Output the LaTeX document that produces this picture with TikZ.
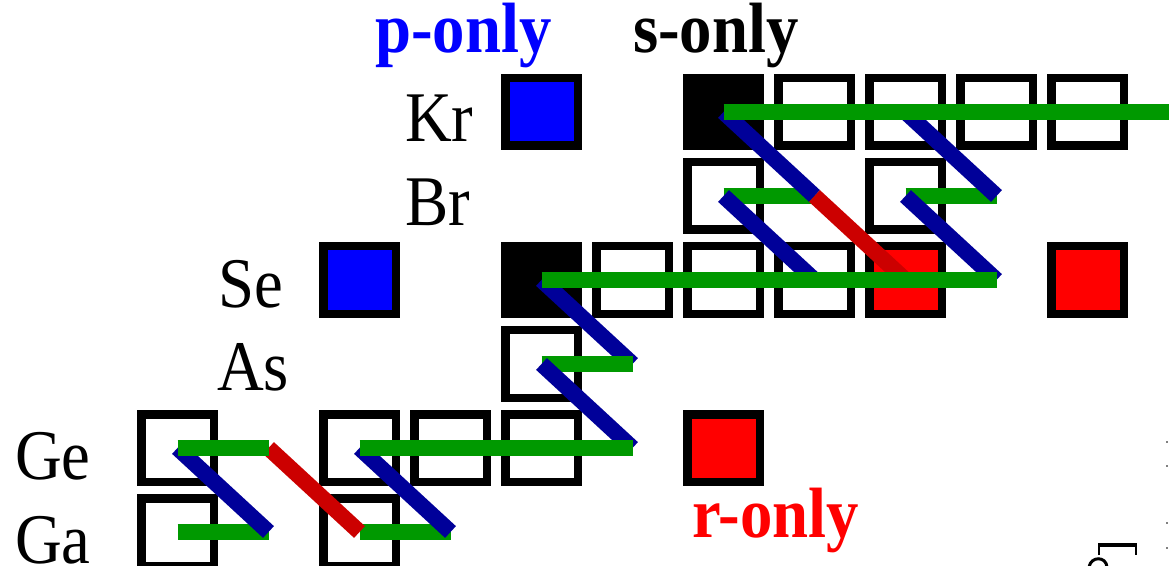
\documentclass[tikz,border=0pt]{standalone}
\usepackage{fontspec}
\setmainfont{Liberation Serif}
\usepackage{graphicx}
\definecolor{gline}{RGB}{0,153,0}
\definecolor{bdiag}{RGB}{0,0,153}
\definecolor{rdiag}{RGB}{204,0,0}
\definecolor{pblue}{RGB}{0,0,255}
\definecolor{rred}{RGB}{255,0,0}
\begin{document}
\begin{tikzpicture}[x=1bp,y=-1bp,
 sq/.style={draw=black, line width=8.5bp, fill=white, minimum width=72.5bp, minimum height=67.5bp, inner sep=0pt},
 ponly/.style={sq, fill=pblue},
 sonly/.style={sq, fill=black},
 ronly/.style={sq, fill=rred},
 flow/.style={line width=16.5bp, draw=gline},
 beta/.style={line width=16bp, draw=bdiag},
 rbeta/.style={line width=16bp, draw=rdiag},
 lab/.style={anchor=base west, inner sep=0pt, font=\fontsize{65}{70}\selectfont},
 ttl/.style={anchor=base west, inner sep=0pt, font=\fontsize{65}{70}\selectfont\bfseries},
 frag/.style={draw=black, line width=2bp},
]
\useasboundingbox (0,0) rectangle (1169,566);
% grid coordinates
\foreach \r/\y in {Kr/112,Br/196,Se/280,As/364,Ge/448,Ga/532}{
  \foreach \c in {0,...,11}{
    \coordinate (\r\c) at ({177.5+91*\c},\y);
  }
}
% squares
\node[ponly] (sKr4) at (Kr4) {};
\node[sonly] (sKr6) at (Kr6) {};
\foreach \c in {7,8,9,10}{\node[sq] (sKr\c) at (Kr\c) {};}
\node[sq] (sBr6) at (Br6) {};
\node[sq] (sBr8) at (Br8) {};
\node[ponly] (sSe2) at (Se2) {};
\node[sonly] (sSe4) at (Se4) {};
\foreach \c in {5,6,7}{\node[sq] (sSe\c) at (Se\c) {};}
\node[ronly] (sSe8) at (Se8) {};
\node[ronly] (sSe10) at (Se10) {};
\node[sq] (sAs4) at (As4) {};
\foreach \c in {0,2,3,4}{\node[sq] (sGe\c) at (Ge\c) {};}
\node[ronly] (sGe6) at (Ge6) {};
\node[sq] (sGa0) at (Ga0) {};
\node[sq] (sGa2) at (Ga2) {};
% flows
\draw[flow] (Br6) -- (Br7);
\draw[flow] (Br8) -- (Br9);
\draw[beta] (Kr6) -- (Br7);
\draw[beta] (Kr8) -- (Br9);
\draw[beta] (Br6) -- (Se7);
\draw[rbeta] (Br7) -- (Se8);
\draw[beta] (Br8) -- (Se9);
\draw[flow] (Kr6) -- (Kr11);
\draw[beta] (Se4) -- (As5);
\draw[flow] (Se4) -- (Se9);
\draw[flow] (As4) -- (As5);
\draw[beta] (As4) -- (Ge5);
\draw[flow] (Ga0) -- (Ga1);
\draw[flow] (Ga2) -- (Ga3);
\draw[beta] (Ge0) -- (Ga1);
\draw[rbeta] (Ge1) -- (Ga2);
\draw[beta] (Ge2) -- (Ga3);
\draw[flow] (Ge0) -- (Ge1);
\draw[flow] (Ge2) -- (Ge5);
% labels
\node[lab] (lKr) at (405,142) {\scalebox{1}[1.1]{Kr}};
\node[lab] (lBr) at (405,226) {\scalebox{1}[1.1]{Br}};
\node[lab] (lSe) at (218,308) {\scalebox{1}[1.1]{Se}};
\node[lab] (lAs) at (217,390) {\scalebox{1}[1.1]{As}};
\node[lab] (lGe) at (15,479) {\scalebox{1}[1.1]{Ge}};
\node[lab] (lGa) at (15,563) {\scalebox{1}[1.1]{Ga}};
\node[ttl, text=pblue] (tp) at (375,53) {\scalebox{1}[1.1]{p-only}};
\node[ttl, text=black] (ts) at (633,53) {\scalebox{1}[1.1]{s-only}};
\node[ttl, text=rred] (tr) at (692,537) {\scalebox{1}[1.1]{r-only}};
% cut-off fragments at the lower right
\draw[frag] (1099,555) -- (1099,545) -- (1136,545) -- (1136,555);
\draw[line width=4bp] (1098,545) -- (1137,545);
\draw[line width=3bp] (1089,567) .. controls (1091,556) and (1106,556) .. (1107,567);
\foreach \yy in {441,465,522,547}{\fill[gray] (1166,\yy) rectangle (1168,\yy+1.5);}
\end{tikzpicture}
\end{document}
